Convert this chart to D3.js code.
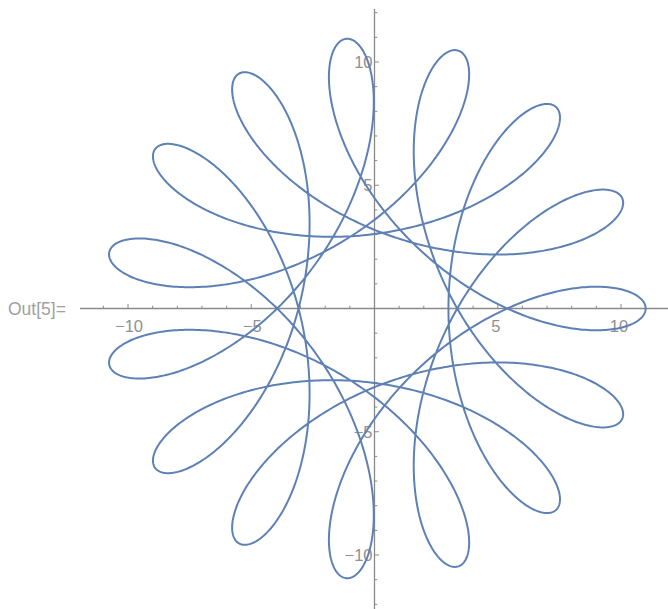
<!DOCTYPE html>
<html>
<head>
<meta charset="utf-8">
<script src="https://cdn.jsdelivr.net/npm/d3@7"></script>
<style>
  body { margin: 0; background: #fff; }
  text { font-family: "Liberation Sans", Arial, sans-serif; }
</style>
</head>
<body>
<div id="chart"></div>
<script>
// Curve terms: z(t) = sum amp * e^(i * freq * t)
const amplitudes = [7, 4];
const frequencies = [4, -11];
const tickLabels = [-10, -5, 5, 10];
const minorTicks = [-12, -11, -10, -9, -8, -7, -6, -5, -4, -3, -2, -1, 1, 2, 3, 4, 5, 6, 7, 8, 9, 10, 11, 12];
const promptLabel = 'Out[5]=';

const width = 668, height = 609;
const unit = 24.65;
const x0 = 374.5, y0 = 308.5;
const xDomain = [-11.95, 12.2], yDomain = [-12.2, 12.15];

const svg = d3.select('#chart')
  .append('svg')
  .attr('width', width)
  .attr('height', height);

const xScale = d3.scaleLinear().domain(xDomain)
  .range([x0 + xDomain[0] * unit, x0 + xDomain[1] * unit]);
const yScale = d3.scaleLinear().domain(yDomain)
  .range([y0 - yDomain[0] * unit, y0 - yDomain[1] * unit]);

const axisColor = '#8a8a8a';
const labelColor = '#909090';
const fmt = v => (v < 0 ? '\u2212' + Math.abs(v) : '' + v);

// axis lines
svg.append('line')
  .attr('x1', xScale.range()[0]).attr('x2', xScale.range()[1])
  .attr('y1', yScale(0)).attr('y2', yScale(0))
  .attr('stroke', axisColor).attr('stroke-width', 1.3);
svg.append('line')
  .attr('x1', xScale(0)).attr('x2', xScale(0))
  .attr('y1', yScale.range()[0]).attr('y2', yScale.range()[1])
  .attr('stroke', axisColor).attr('stroke-width', 1.3);

// ticks (x ticks point up, y ticks point right)
const inX = v => v >= xDomain[0] && v <= xDomain[1];
const inY = v => v >= yDomain[0] && v <= yDomain[1];
const tickLen = v => (v % 5 === 0 ? 4.5 : 2.8);

svg.selectAll('line.xtick')
  .data(minorTicks.filter(inX))
  .enter().append('line')
  .attr('class', 'xtick')
  .attr('x1', d => xScale(d)).attr('x2', d => xScale(d))
  .attr('y1', yScale(0)).attr('y2', d => yScale(0) - tickLen(d))
  .attr('stroke', axisColor).attr('stroke-width', 1);

svg.selectAll('line.ytick')
  .data(minorTicks.filter(inY))
  .enter().append('line')
  .attr('class', 'ytick')
  .attr('y1', d => yScale(d)).attr('y2', d => yScale(d))
  .attr('x1', xScale(0)).attr('x2', d => xScale(0) + tickLen(d))
  .attr('stroke', axisColor).attr('stroke-width', 1);

// tick labels
svg.selectAll('text.xlabel')
  .data(tickLabels)
  .enter().append('text')
  .attr('class', 'xlabel')
  .attr('x', d => xScale(d) + (d < 0 ? 1 : -2))
  .attr('y', yScale(0) + 23)
  .attr('text-anchor', 'middle')
  .attr('font-size', 16.5)
  .attr('fill', labelColor)
  .text(fmt);

svg.selectAll('text.ylabel')
  .data(tickLabels)
  .enter().append('text')
  .attr('class', 'ylabel')
  .attr('x', xScale(0) - 2)
  .attr('y', d => yScale(d) + 6)
  .attr('text-anchor', 'end')
  .attr('font-size', 16.5)
  .attr('fill', labelColor)
  .text(fmt);

svg.append('text')
  .attr('x', 8)
  .attr('y', yScale(0) + 6)
  .attr('font-size', 17.5)
  .attr('fill', '#a0a0a0')
  .text(promptLabel);

// parametric curve
const ts = d3.range(0, 2 * Math.PI + 1e-9, 2 * Math.PI / 3000);
const pts = ts.map(t => [
  d3.sum(amplitudes, (a, k) => a * Math.cos(frequencies[k] * t)),
  d3.sum(amplitudes, (a, k) => a * Math.sin(frequencies[k] * t))
]);

const line = d3.line()
  .x(d => xScale(d[0]))
  .y(d => yScale(d[1]));

svg.append('path')
  .datum(pts)
  .attr('d', line)
  .attr('fill', 'none')
  .attr('stroke', '#5e81b5')
  .attr('stroke-width', 2)
  .attr('stroke-linejoin', 'round');
</script>
</body>
</html>
